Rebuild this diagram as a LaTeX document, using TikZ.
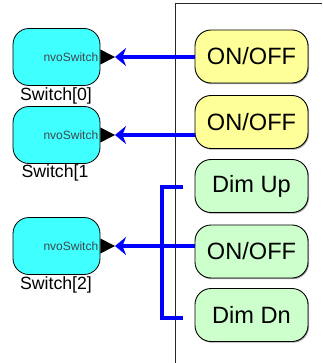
\documentclass[tikz,border=0pt]{standalone}
\usepackage{fontspec}
\setmainfont{Liberation Sans}
\usetikzlibrary{arrows.meta,shadows}
\definecolor{swcyan}{HTML}{40FFFF}
\definecolor{btyellow}{HTML}{FFFF99}
\definecolor{btgreen}{HTML}{CCFFCC}
\begin{document}
\begin{tikzpicture}[x=1pt,y=-1pt,
  swbox/.style={draw=black,line width=0.8pt,fill=swcyan,rounded corners=16pt,
    minimum width=87pt,minimum height=57pt,inner sep=0pt},
  btn/.style={draw=black,line width=0.9pt,rounded corners=16pt,
    minimum width=113pt,minimum height=53pt,inner sep=0pt,
    font=\fontsize{23.6}{24}\selectfont,
    drop shadow={shadow xshift=1pt,shadow yshift=-1.2pt,fill=black!60,opacity=0.6}},
  swlabel/.style={font=\fontsize{17.7}{18}\selectfont,inner sep=0pt},
  nvo/.style={font=\fontsize{12}{12}\selectfont,text=black!80!cyan,inner sep=0pt,anchor=east},
  bl/.style={draw=blue,line width=4pt},
  barrow/.style={bl,-{Stealth[length=11pt,width=18pt,inset=3.5pt]}}]
\useasboundingbox (0,0) rectangle (322,363);
% frame
\draw[line width=1pt,black!85] (175,363) -- (175,4) -- (322,4);
% switches
\node[swbox] (sw0) at (56.5,57) {};
\node[swbox] (sw1) at (56.5,135) {};
\node[swbox] (sw2) at (56.5,246) {};
\node[nvo] (n0) at ([xshift=-2pt]sw0.east) {nvoSwitch};
\node[nvo] (n1) at ([xshift=-2pt]sw1.east) {nvoSwitch};
\node[nvo] (n2) at ([xshift=-2pt]sw2.east) {nvoSwitch};
\node[swlabel] (l0) at (56,96) {Switch[0]};
\node[swlabel] (l1) at (55,173) {Switch[1};
\node[swlabel] (l2) at (56,285) {Switch[2]};
% triangles
\coordinate (t0) at (115,57);
\coordinate (t1) at (115,135);
\coordinate (t2) at (115,246);
\foreach \s/\t in {sw0/t0,sw1/t1,sw2/t2}{
  \fill[black] ([yshift=7.5pt]\s.east) -- (\t) -- ([yshift=-7.5pt]\s.east) -- cycle;
}
% buttons
\node[btn,fill=btyellow] (b0) at (251.5,56.5) {ON/OFF};
\node[btn,fill=btyellow] (b1) at (251.5,122) {ON/OFF};
\node[btn,fill=btgreen] (du) at (251.5,186) {Dim Up};
\node[btn,fill=btgreen] (b2) at (251.5,251.5) {ON/OFF};
\node[btn,fill=btgreen] (dd) at (251.5,315) {Dim Dn};
% bracket
\coordinate (bu) at (162,187);
\coordinate (bd) at (162,318);
\draw[bl] ([xshift=-12pt]du.west |- bu) -- (bu) -- (bd) -- ([xshift=-12pt]dd.west |- bd);
% arrows
\draw[barrow] (b0.west |- t0) -- (t0);
\draw[barrow] (b1.west |- t1) -- (t1);
\draw[barrow] (b2.west |- t2) -- (t2);
\end{tikzpicture}
\end{document}
